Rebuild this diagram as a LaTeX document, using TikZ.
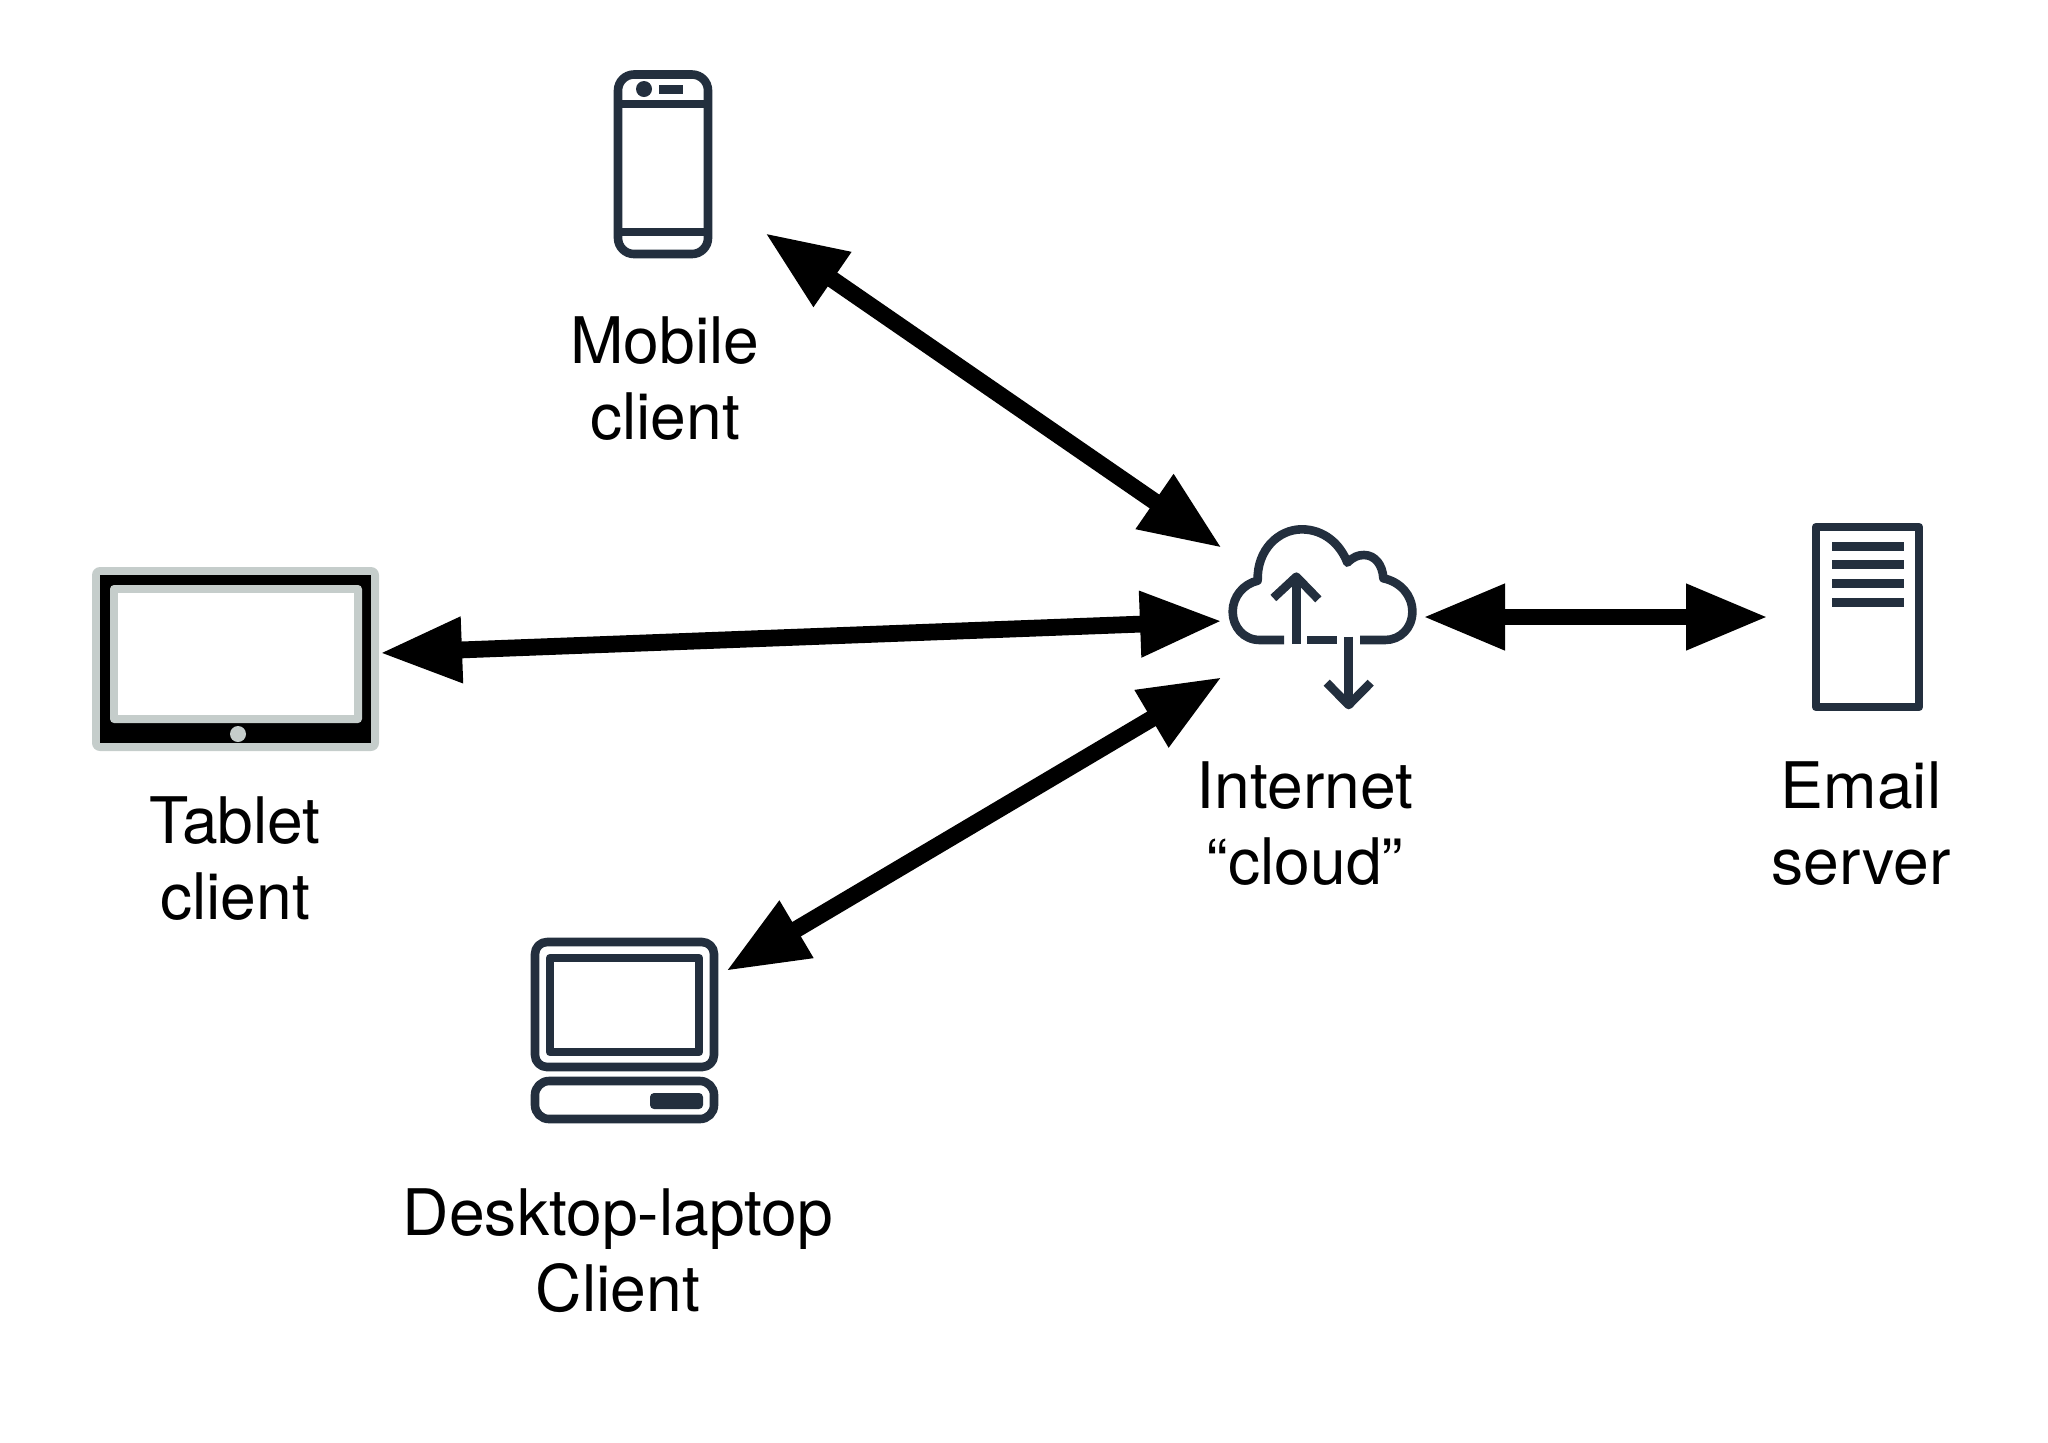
\documentclass[tikz,border=0pt]{standalone}
\usepackage{fontspec}
\setmainfont{TeX Gyre Heros}
\usetikzlibrary{arrows.meta}
\definecolor{icon}{HTML}{232F3E}
\definecolor{tabgray}{HTML}{C5CDCB}
\tikzset{
  iconline/.style={draw=icon,line width=4.3pt,line join=round},
  link/.style={line width=8.4pt,draw=black,{Triangle[length=41pt,width=31pt]}-{Triangle[length=41pt,width=31pt]}},
  label/.style={font=\fontsize{32.1pt}{38pt}\selectfont,align=center,anchor=center,text=black,inner sep=0pt}
}
\begin{document}
\begin{tikzpicture}[x=0.5pt,y=-0.5pt]
\useasboundingbox (0,0) rectangle (2048,1442);
% phone
\draw[iconline,rounded corners=8pt] (618,74.5) rectangle (708,254);
\draw[iconline] (618,104) -- (708,104) (618,232) -- (708,232);
\fill[icon] (644,89) circle[radius=8];
\fill[icon] (659,84.5) rectangle (683,93.5);
% tablet
\fill[tabgray,rounded corners=4pt] (92,567) rectangle (379,751);
\fill[black] (100,575) rectangle (371,743);
\fill[tabgray,rounded corners=2pt] (110,585) rectangle (362,723);
\fill[white] (118,593) rectangle (354,715);
\fill[tabgray] (238,734) circle[radius=8];
% desktop
\draw[iconline,rounded corners=6pt] (535,942) rectangle (714,1067);
\draw[iconline] (550,958) rectangle (699,1052);
\draw[iconline,rounded corners=7pt] (535,1081) rectangle (714,1119);
\fill[icon,rounded corners=2pt] (650,1093) rectangle (703,1109);
% cloud
\begin{scope}[shift={(1210,510)},scale=1/3]
\draw[iconline] (222,390) -- (150,390) .. controls (100,390) and (68,350) .. (68,305)
  .. controls (68,260) and (100,222) .. (143,212)
  .. controls (140,120) and (205,58) .. (275,58)
  .. controls (340,58) and (390,100) .. (412,158)
  .. controls (430,140) and (445,135) .. (462,135)
  .. controls (495,135) and (518,165) .. (520,205)
  .. controls (570,215) and (607,255) .. (607,305)
  .. controls (607,355) and (570,390) .. (525,390) -- (450,390);
\draw[iconline] (292,390) -- (382,390);
\draw[iconline] (259,402) -- (259,200);
\draw[iconline] (190,264) -- (259,200) -- (325,268);
\draw[iconline] (416,380) -- (416,585);
\draw[iconline] (350,518) -- (416,585) -- (482,518);
\end{scope}
% server
\draw[iconline] (1816,527) rectangle (1919,707);
\foreach \yy in {546,564,583,602}{\fill[icon] (1832,\yy-4.5) rectangle (1904,\yy+4.5);}
% connector ends
\coordinate (mobileEnd) at (765,233);
\coordinate (cloudA) at (1222,548);
\coordinate (tabletEnd) at (380,653);
\coordinate (cloudB) at (1222,621);
\coordinate (desktopEnd) at (726,971);
\coordinate (cloudC) at (1222,677);
\coordinate (cloudD) at (1423,617);
\coordinate (serverEnd) at (1768,617);
\draw[link] (mobileEnd) -- (cloudA);
\draw[link] (tabletEnd) -- (cloudB);
\draw[link] (desktopEnd) -- (cloudC);
\draw[link] (cloudD) -- (serverEnd);
% labels
\node[label] (mobileLabel) at (665,379) {Mobile\\client};
\node[label] (tabletLabel) at (235,859) {Tablet\\client};
\node[label] (desktopLabel) at (618,1251) {Desktop-laptop\\Client};
\node[label] (cloudLabel) at (1305,824) {Internet\\“cloud”};
\node[label] (serverLabel) at (1861,824) {Email\\server};
\end{tikzpicture}
\end{document}
